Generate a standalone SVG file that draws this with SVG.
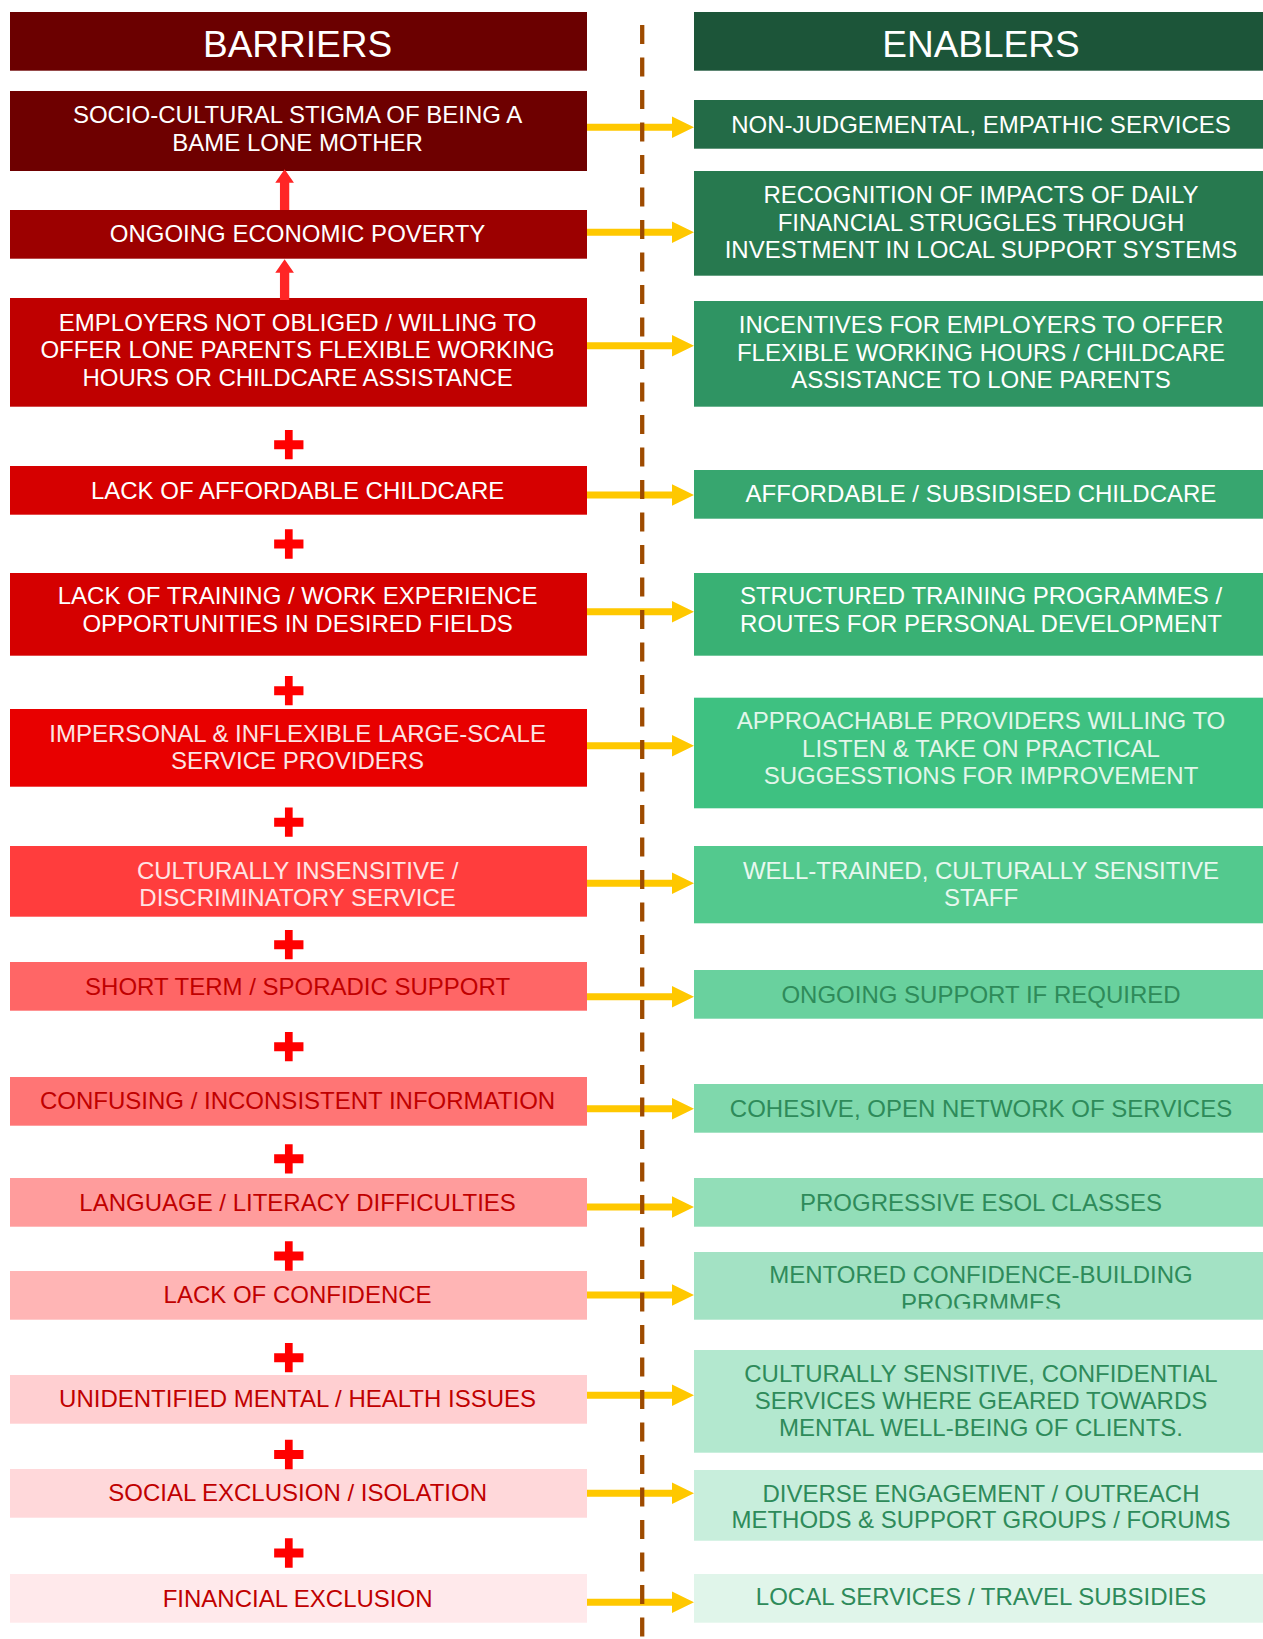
<svg xmlns="http://www.w3.org/2000/svg" xmlns:xlink="http://www.w3.org/1999/xlink" width="1263" height="1639" viewBox="0 0 1263 1639">
<style>
text{font-family:"Liberation Sans",Arial,sans-serif;font-size:24px;text-anchor:middle}
.h{font-size:37px;fill:#fff}
.w{fill:#fff}
.dr{fill:#C00000}
.dg{fill:#2E8B5A}
</style>
<defs>
<path id="plus" d="M-3.85,-14.65H3.85V-4.5H14.65V4.5H3.85V14.65H-3.85V4.5H-14.65V-4.5H-3.85Z" fill="#FF0000"/>
<path id="up" d="M0,0L9.35,13.4H4.65V40.7H-4.65V13.4H-9.35Z" fill="#FF2626"/>
<path id="ya" d="M0,-3.5H85V-10.8L107,0L85,10.8V3.5H0Z" fill="#FFC800"/>
<clipPath id="c11"><rect x="694" y="1252" width="569" height="56.5"/></clipPath>
</defs>
<rect width="1263" height="1639" fill="#fff"/>

<g id="barriers-header"><rect x="10" y="12" width="577" height="58.7" fill="#6B0000"/><text class="h" x="297.6" y="57">BARRIERS</text></g>
<g id="enablers-header"><rect x="694" y="12" width="569" height="58.7" fill="#1C5539"/><text class="h" x="981" y="57">ENABLERS</text></g>

<g id="b1"><rect x="10" y="91" width="577" height="80" fill="#6E0000"/><text class="w" x="297.6" y="123.3">SOCIO-CULTURAL STIGMA OF BEING A</text><text class="w" x="297.6" y="151">BAME LONE MOTHER</text></g>
<g id="b2"><rect x="10" y="210" width="577" height="48.7" fill="#9C0000"/><text class="w" x="297.6" y="242.3">ONGOING ECONOMIC POVERTY</text></g>
<g id="b3"><rect x="10" y="298" width="577" height="108.7" fill="#BF0000"/><text class="w" x="297.6" y="330.7">EMPLOYERS NOT OBLIGED / WILLING TO</text><text class="w" x="297.6" y="358.3">OFFER LONE PARENTS FLEXIBLE WORKING</text><text class="w" x="297.6" y="385.7">HOURS OR CHILDCARE ASSISTANCE</text></g>
<g id="b4"><rect x="10" y="466" width="577" height="48.7" fill="#D60000"/><text class="w" x="297.6" y="498.7">LACK OF AFFORDABLE CHILDCARE</text></g>
<g id="b5"><rect x="10" y="573" width="577" height="82.7" fill="#D50000"/><text class="w" x="297.6" y="604.3">LACK OF TRAINING / WORK EXPERIENCE</text><text class="w" x="297.6" y="632">OPPORTUNITIES IN DESIRED FIELDS</text></g>
<g id="b6"><rect x="10" y="709" width="577" height="77.7" fill="#E80000"/><text x="297.6" y="741.7" fill="#FCE4E4">IMPERSONAL &amp; INFLEXIBLE LARGE-SCALE</text><text x="297.6" y="769.3" fill="#FCE4E4">SERVICE PROVIDERS</text></g>
<g id="b7"><rect x="10" y="846" width="577" height="70.7" fill="#FF3D3D"/><text x="297.6" y="879" fill="#FFE4E4">CULTURALLY INSENSITIVE /</text><text x="297.6" y="905.7" fill="#FFE4E4">DISCRIMINATORY SERVICE</text></g>
<g id="b8"><rect x="10" y="962" width="577" height="48.7" fill="#FF6666"/><text class="dr" x="297.6" y="995">SHORT TERM / SPORADIC SUPPORT</text></g>
<g id="b9"><rect x="10" y="1077" width="577" height="48.7" fill="#FF7575"/><text class="dr" x="297.6" y="1109.3">CONFUSING / INCONSISTENT INFORMATION</text></g>
<g id="b10"><rect x="10" y="1178" width="577" height="48.7" fill="#FF9C9C"/><text class="dr" x="297.6" y="1210.7">LANGUAGE / LITERACY DIFFICULTIES</text></g>
<g id="b11"><rect x="10" y="1271" width="577" height="48.7" fill="#FFB5B5"/><text class="dr" x="297.6" y="1303.3">LACK OF CONFIDENCE</text></g>
<g id="b12"><rect x="10" y="1375" width="577" height="48.7" fill="#FFCFD1"/><text class="dr" x="297.6" y="1407.3">UNIDENTIFIED MENTAL / HEALTH ISSUES</text></g>
<g id="b13"><rect x="10" y="1469" width="577" height="48.7" fill="#FFD8DA"/><text class="dr" x="297.6" y="1501.3">SOCIAL EXCLUSION / ISOLATION</text></g>
<g id="b14"><rect x="10" y="1574" width="577" height="48.7" fill="#FFE9EB"/><text class="dr" x="297.6" y="1606.7">FINANCIAL EXCLUSION</text></g>

<g id="e1"><rect x="694" y="100" width="569" height="48.7" fill="#236B47"/><text class="w" x="981" y="132.7">NON-JUDGEMENTAL, EMPATHIC SERVICES</text></g>
<g id="e2"><rect x="694" y="171" width="569" height="104.7" fill="#27794F"/><text class="w" x="981" y="202.7">RECOGNITION OF IMPACTS OF DAILY</text><text class="w" x="981" y="230.7">FINANCIAL STRUGGLES THROUGH</text><text class="w" x="981" y="257.7">INVESTMENT IN LOCAL SUPPORT SYSTEMS</text></g>
<g id="e3"><rect x="694" y="301" width="569" height="105.7" fill="#2F9463"/><text class="w" x="981" y="332.7">INCENTIVES FOR EMPLOYERS TO OFFER</text><text class="w" x="981" y="360.7">FLEXIBLE WORKING HOURS / CHILDCARE</text><text class="w" x="981" y="387.7">ASSISTANCE TO LONE PARENTS</text></g>
<g id="e4"><rect x="694" y="470" width="569" height="48.7" fill="#37A66F"/><text class="w" x="981" y="502.3">AFFORDABLE / SUBSIDISED CHILDCARE</text></g>
<g id="e5"><rect x="694" y="573" width="569" height="82.7" fill="#39B174"/><text class="w" x="981" y="604.3">STRUCTURED TRAINING PROGRAMMES /</text><text class="w" x="981" y="632">ROUTES FOR PERSONAL DEVELOPMENT</text></g>
<g id="e6"><rect x="694" y="697.7" width="569" height="110.6" fill="#3EC181"/><text x="981" y="729" fill="#E2F6EA">APPROACHABLE PROVIDERS WILLING TO</text><text x="981" y="757.3" fill="#E2F6EA">LISTEN &amp; TAKE ON PRACTICAL</text><text x="981" y="784.3" fill="#E2F6EA">SUGGESSTIONS FOR IMPROVEMENT</text></g>
<g id="e7"><rect x="694" y="846" width="569" height="77.3" fill="#53C98E"/><text x="981" y="879" fill="#E8F8EF">WELL-TRAINED, CULTURALLY SENSITIVE</text><text x="981" y="905.7" fill="#E8F8EF">STAFF</text></g>
<g id="e8"><rect x="694" y="970" width="569" height="48.7" fill="#69D19E"/><text class="dg" x="981" y="1003">ONGOING SUPPORT IF REQUIRED</text></g>
<g id="e9"><rect x="694" y="1084" width="569" height="48.7" fill="#7FD8AC"/><text class="dg" x="981" y="1117">COHESIVE, OPEN NETWORK OF SERVICES</text></g>
<g id="e10"><rect x="694" y="1178" width="569" height="48.7" fill="#92DEB8"/><text class="dg" x="981" y="1210.7">PROGRESSIVE ESOL CLASSES</text></g>
<g id="e11"><rect x="694" y="1252" width="569" height="67.7" fill="#A3E2C4"/><g clip-path="url(#c11)"><text class="dg" x="981" y="1283.3">MENTORED CONFIDENCE-BUILDING</text><text class="dg" x="981" y="1311">PROGRMMES</text></g></g>
<g id="e12"><rect x="694" y="1350" width="569" height="102.7" fill="#B3E8CF"/><text class="dg" x="981" y="1381.7">CULTURALLY SENSITIVE, CONFIDENTIAL</text><text class="dg" x="981" y="1409">SERVICES WHERE GEARED TOWARDS</text><text class="dg" x="981" y="1436">MENTAL WELL-BEING OF CLIENTS.</text></g>
<g id="e13"><rect x="694" y="1470" width="569" height="70.7" fill="#C8EEDC"/><text class="dg" x="981" y="1501.7">DIVERSE ENGAGEMENT / OUTREACH</text><text class="dg" x="981" y="1528.3">METHODS &amp; SUPPORT GROUPS / FORUMS</text></g>
<g id="e14"><rect x="694" y="1574" width="569" height="48.7" fill="#E0F5EA"/><text class="dg" x="981" y="1605">LOCAL SERVICES / TRAVEL SUBSIDIES</text></g>

<g id="connectors">
<use xlink:href="#up" x="284.6" y="169.3"/>
<use xlink:href="#up" x="284.6" y="259.3"/>
<use xlink:href="#plus" x="288.8" y="444.7"/>
<use xlink:href="#plus" x="288.8" y="544"/>
<use xlink:href="#plus" x="288.8" y="690.7"/>
<use xlink:href="#plus" x="288.8" y="822.2"/>
<use xlink:href="#plus" x="288.8" y="944.7"/>
<use xlink:href="#plus" x="288.8" y="1046.7"/>
<use xlink:href="#plus" x="288.8" y="1158.8"/>
<use xlink:href="#plus" x="288.8" y="1256"/>
<use xlink:href="#plus" x="288.8" y="1357.7"/>
<use xlink:href="#plus" x="288.8" y="1454.5"/>
<use xlink:href="#plus" x="288.8" y="1553"/>
<use xlink:href="#ya" x="587" y="127.3"/>
<use xlink:href="#ya" x="587" y="232.3"/>
<use xlink:href="#ya" x="587" y="345.7"/>
<use xlink:href="#ya" x="587" y="495"/>
<use xlink:href="#ya" x="587" y="611.7"/>
<use xlink:href="#ya" x="587" y="745.7"/>
<use xlink:href="#ya" x="587" y="883.3"/>
<use xlink:href="#ya" x="587" y="996.7"/>
<use xlink:href="#ya" x="587" y="1108.7"/>
<use xlink:href="#ya" x="587" y="1207"/>
<use xlink:href="#ya" x="587" y="1295"/>
<use xlink:href="#ya" x="587" y="1395.3"/>
<use xlink:href="#ya" x="587" y="1493.3"/>
<use xlink:href="#ya" x="587" y="1602.3"/>
<line x1="642.2" y1="25" x2="642.2" y2="1639" stroke="#9E4B00" stroke-width="4.3" stroke-dasharray="19 13.5"/>
</g>
</svg>
